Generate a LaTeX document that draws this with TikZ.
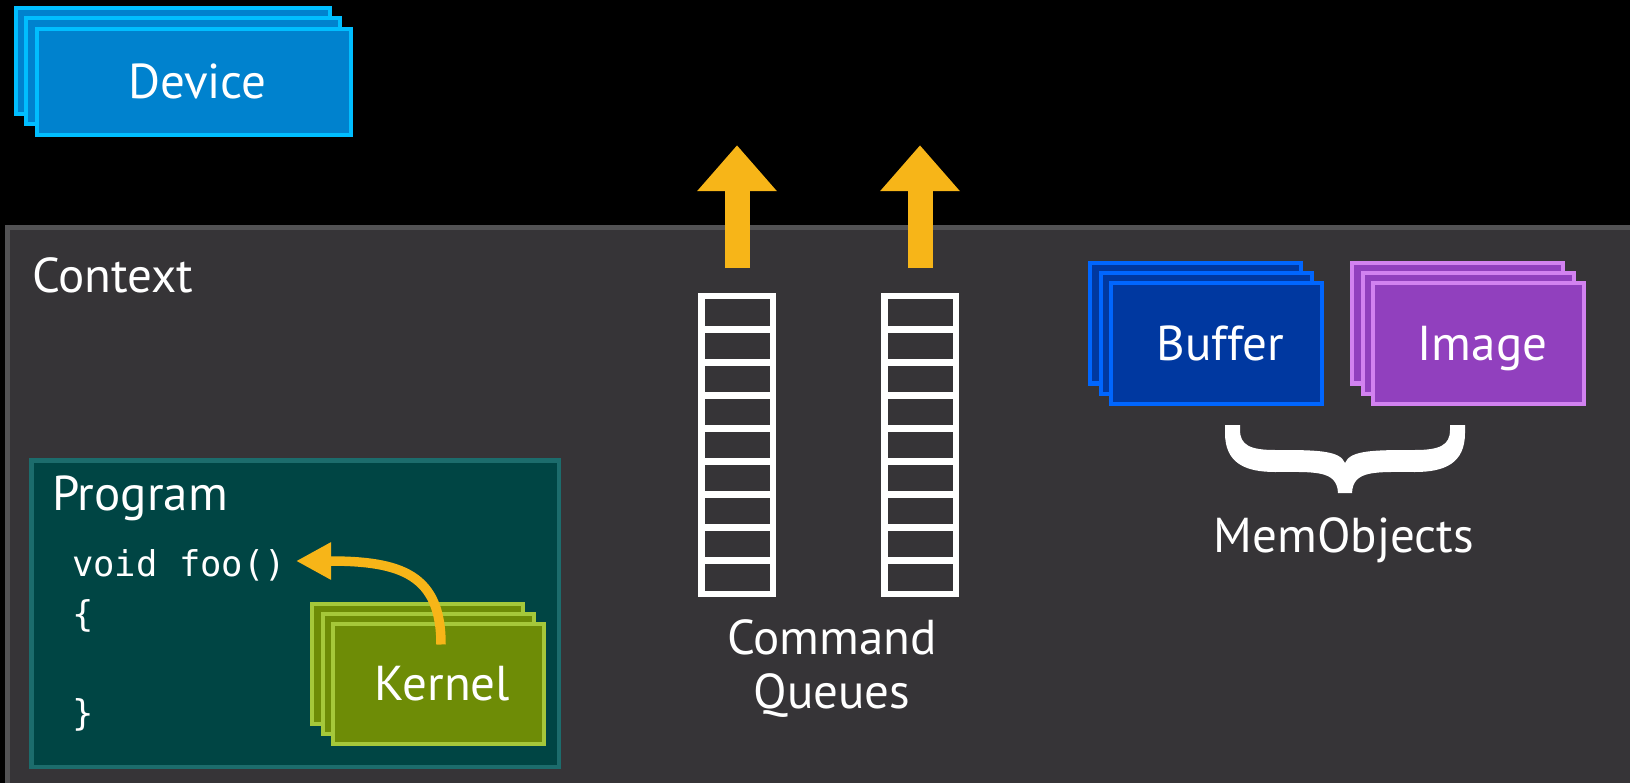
\documentclass[tikz,border=0pt]{standalone}
\usepackage{fontspec}
\setmainfont{PT Sans}
\newfontfamily\codefont{DejaVu Sans Mono}
\usetikzlibrary{arrows.meta,calc}

\definecolor{ctxfill}{RGB}{54,52,55}
\definecolor{ctxline}{RGB}{82,82,84}
\definecolor{devfill}{RGB}{0,130,206}
\definecolor{devline}{RGB}{0,190,255}
\definecolor{buffill}{RGB}{0,56,160}
\definecolor{bufline}{RGB}{0,102,255}
\definecolor{imgfill}{RGB}{145,64,190}
\definecolor{imgline}{RGB}{210,130,240}
\definecolor{kerfill}{RGB}{110,140,6}
\definecolor{kerline}{RGB}{165,200,58}
\definecolor{progfill}{RGB}{0,69,68}
\definecolor{progline}{RGB}{28,108,108}
\definecolor{arrowc}{RGB}{247,181,24}

\begin{document}
\begin{tikzpicture}[x=1pt,y=-1pt,
  card/.style={rectangle, draw=#1line, fill=#1fill, line width=4pt,
    inner sep=0pt, outer sep=0pt, text=white,
    font=\fontsize{49}{58}\selectfont, text height=34pt, text depth=0pt,
    execute at begin node=\hspace*{8pt}},
  devcard/.style={card=dev, minimum width=314pt, minimum height=106pt},
  bufcard/.style={card=buf, minimum width=211pt, minimum height=120pt},
  imgcard/.style={card=img, minimum width=211pt, minimum height=120pt},
  kercard/.style={card=ker, minimum width=211pt, minimum height=120pt},
  lbl/.style={text=white, font=\fontsize{49}{58}\selectfont, inner sep=0pt},
  code/.style={text=white, font=\codefont\fontsize{35.5}{49}\selectfont, inner sep=0pt, anchor=base west},
  queue/.style={rectangle, draw=white, line width=6.5pt, inner sep=0pt, outer sep=0pt,
    minimum width=71.5pt, minimum height=297.5pt},
  cell/.style={draw=white, line width=6.5pt},
  blockarrow/.style={draw=arrowc, line width=25pt, -{Triangle[width=77pt,length=46pt]}},
  curvearrow/.style={draw=arrowc, line width=9.5pt, -{Triangle[width=35pt,length=35pt]}},
]
\useasboundingbox (0,0) rectangle (1630,783);
\clip (0,0) rectangle (1630,783);
\fill[black] (0,0) rectangle (1630,783);

% context panel
\draw[draw=ctxline, fill=ctxfill, line width=5pt] (7.5,227.5) rectangle (1660,820);
\node[lbl, anchor=base west] (ctxlabel) at (32,293) {Context};

% device stack
\node[devcard] (dev3) at (172.5,61) {};
\node[devcard] (dev2) at ($(dev3)+(10.5,10.5)$) {};
\node[devcard] (dev1) at ($(dev2)+(10.5,10.5)$) {Device};

% command queues
\foreach \q/\cx in {q1/737, q2/920} {
  \node[queue] (\q) at (\cx,445) {};
  \foreach \i in {1,...,8}
    \draw[cell] ($(\q.north west)!\i/9!(\q.south west)$) -- ($(\q.north east)!\i/9!(\q.south east)$);
  \draw[blockarrow] ($(\q.north)+(0,-28)$) -- ($(\q.north)+(0,-151)$);
}
\node[lbl, anchor=base] (cq1) at (832,654) {Command};
\node[lbl, anchor=base] (cq2) at (832,708) {Queues};

% memory objects
\node[bufcard] (buf3) at (1195.5,323.5) {};
\node[bufcard] (buf2) at ($(buf3)+(10.5,10)$) {};
\node[bufcard] (buf1) at ($(buf2)+(10.5,10)$) {Buffer};
\node[imgcard] (img3) at (1457.5,323.5) {};
\node[imgcard] (img2) at ($(img3)+(10.5,10)$) {};
\node[imgcard] (img1) at ($(img2)+(10.5,10)$) {Image};

% curly brace grouping buffer and image
\begin{scope}[shift={(1345,425)}]
\fill[white] (-120,0) -- (-120,8)
  .. controls (-120,38) and (-100,47) .. (-70,47)
  .. controls (-30,47) and (-8,45) .. (-7,68)
  -- (7,68)
  .. controls (8,45) and (30,47) .. (70,47)
  .. controls (100,47) and (120,38) .. (120,8)
  -- (120,0) -- (105,0) -- (105,5)
  .. controls (105,20) and (95,25) .. (70,25)
  .. controls (30,25) and (5,25) .. (0,38)
  .. controls (-5,25) and (-30,25) .. (-70,25)
  .. controls (-95,25) and (-105,20) .. (-105,5)
  -- (-105,0) -- cycle;
\end{scope}
\node[lbl, anchor=base] (memlabel) at (1344,552) {MemObjects};

% program with its kernel
\draw[draw=progline, fill=progfill, line width=4.5pt] (31.25,460.25) rectangle (558.75,766.75);
\node[lbl, anchor=base west] (proglabel) at (52,510) {Program};
\node[code] (foo) at (72,576) {void foo()};
\node[code] (open) at (72,626) {\{};
\node[code] (close) at (72,725) {\}};

\node[kercard] (ker3) at (417.5,663.5) {};
\node[kercard] (ker2) at ($(ker3)+(10.5,10)$) {};
\node[kercard] (ker1) at ($(ker2)+(10.5,10)$) {Kernel};

\coordinate (kstart) at ($(ker1.north)+(2.5,21)$);
\coordinate (fooend) at (296,561);
\draw[curvearrow] (kstart) .. controls +(0,-70) and +(105,0) .. (fooend);
\end{tikzpicture}
\end{document}
